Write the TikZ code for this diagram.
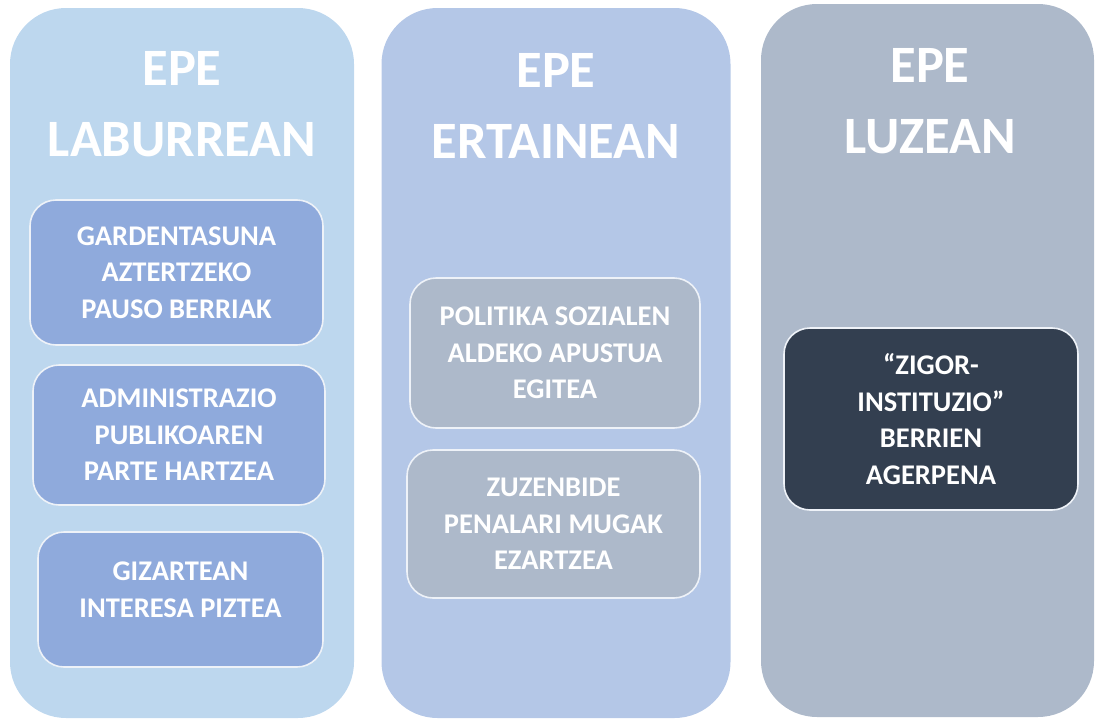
\documentclass[tikz,border=0pt]{standalone}
\usepackage{fontspec}
\setmainfont{Carlito}
\definecolor{shortbg}{HTML}{BDD7EE}
\definecolor{midbg}{HTML}{B4C7E7}
\definecolor{longbg}{HTML}{ADB9CA}
\definecolor{shortitem}{HTML}{8FAADC}
\definecolor{miditem}{HTML}{ADB9CA}
\definecolor{longitem}{HTML}{333F50}
\definecolor{itemedge}{HTML}{EEF2F8}
\begin{document}
\begin{tikzpicture}[x=1pt, y=-1pt,
  column/.style={rectangle, rounded corners=56pt, inner sep=0pt},
  titletext/.style={text=white, font=\fontsize{52.5}{71}\selectfont\bfseries, align=center, inner sep=0pt},
  itembox/.style={rectangle, rounded corners=26pt, draw=itemedge, line width=1.6pt, text=white, font=\fontsize{28.5}{36.5}\selectfont\bfseries, align=center, inner sep=0pt},
  itemtext/.style={text=white, font=\fontsize{28.5}{36.5}\selectfont\bfseries, align=center, inner sep=0pt}, ]
  \useasboundingbox (0,0) rectangle (1095,720);

  % columns
  \node[column, fill=shortbg, minimum width=344pt, minimum height=710pt] (shortcol) at (182,363) {};
  \node[column, fill=midbg, minimum width=349pt, minimum height=710pt] (midcol) at (556,363) {};
  \node[column, fill=longbg, minimum width=333pt, minimum height=713pt] (longcol) at (927.5,360.5) {};

  % titles
  \node[titletext] (shorttitle) at (182,104) {EPE\\LABURREAN};
  \node[titletext] (midtitle) at (556,106) {EPE\\ERTAINEAN};
  \node[titletext] (longtitle) at (930,101) {EPE\\LUZEAN};

  % short term
  \node[itembox, fill=shortitem, minimum width=293pt, minimum height=145pt] (transparency) at (176.5,272.5) {GARDENTASUNA\\AZTERTZEKO\\PAUSO BERRIAK};
  \node[itembox, fill=shortitem, minimum width=292pt, minimum height=140pt] (administration) at (179,435) {ADMINISTRAZIO\\PUBLIKOAREN\\PARTE HARTZEA};
  \node[itembox, fill=shortitem, minimum width=285pt, minimum height=135pt] (interest) at (180.5,599.5) {};
  \node[itemtext] (interesttext) at ([yshift=10pt]interest.center) {GIZARTEAN\\INTERESA PIZTEA};

  % medium term
  \node[itembox, fill=miditem, minimum width=290pt, minimum height=150pt] (socialpolicy) at (555,353) {POLITIKA SOZIALEN\\ALDEKO APUSTUA\\EGITEA};
  \node[itembox, fill=miditem, minimum width=293pt, minimum height=148pt] (penallimits) at (553.5,524) {ZUZENBIDE\\PENALARI MUGAK\\EZARTZEA};

  % long term
  \node[itembox, fill=longitem, minimum width=294pt, minimum height=182pt] (institutions) at (931,419) {“ZIGOR-\\INSTITUZIO”\\BERRIEN\\AGERPENA};
\end{tikzpicture}
\end{document}
